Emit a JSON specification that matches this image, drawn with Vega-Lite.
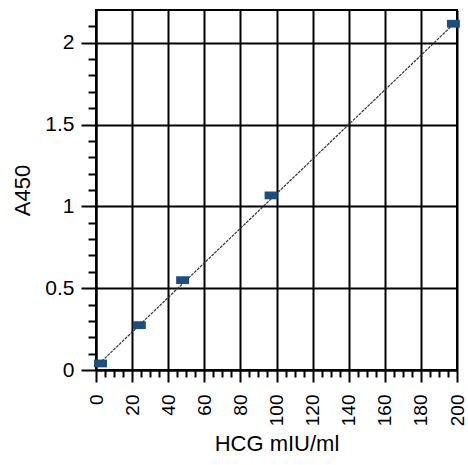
{
  "$schema": "https://vega.github.io/schema/vega-lite/v6.json",
  "width": 361,
  "height": 360,
  "autosize": "none",
  "padding": {"left": 96, "top": 10, "right": 11, "bottom": 95},
  "background": "white",
  "config": {"view": {"stroke": "black", "strokeWidth": 2}, "font": "Liberation Sans"},
  "datasets": {
    "pts": [
      {"hcg": 2.5, "a450": 0.04},
      {"hcg": 24, "a450": 0.274},
      {"hcg": 48, "a450": 0.549},
      {"hcg": 97, "a450": 1.067},
      {"hcg": 198, "a450": 2.116}
    ],
    "fit": [
      {"hcg": 0, "a450": 0.02},
      {"hcg": 200, "a450": 2.134}
    ]
  },
  "layer": [
    {
      "data": {"name": "fit"},
      "mark": {"type": "line", "color": "#333333", "strokeWidth": 1.2, "strokeDash": [3, 1], "clip": false},
      "encoding": {
        "x": {
          "field": "hcg", "type": "quantitative",
          "scale": {"domain": [0, 200], "nice": false, "zero": false},
          "axis": {
            "orient": "bottom",
            "values": [0, 20, 40, 60, 80, 100, 120, 140, 160, 180, 200],
            "grid": true, "gridColor": "black", "gridWidth": 2, "gridOpacity": 1,
            "domainColor": "black", "domainWidth": 2,
            "tickColor": "black", "tickWidth": 2, "tickSize": 12,
            "labelAngle": -90, "labelFontSize": 19, "labelColor": "black", "labelPadding": 12,
            "labelFlush": false, "labelOverlap": false,
            "title": "HCG mIU/ml", "titleFontSize": 22, "titleFontWeight": "normal", "titleColor": "black", "titlePadding": 8
          }
        },
        "y": {
          "field": "a450", "type": "quantitative",
          "scale": {"domain": [0, 2.2], "nice": false, "zero": false},
          "axis": {
            "orient": "left",
            "values": [0, 0.5, 1, 1.5, 2],
            "format": "~g",
            "grid": true, "gridColor": "black", "gridWidth": 2, "gridOpacity": 1,
            "domainColor": "black", "domainWidth": 2,
            "tickColor": "black", "tickWidth": 2, "tickSize": 15,
            "labelFontSize": 21, "labelColor": "black", "labelPadding": 7,
            "labelFlush": false, "labelOverlap": false,
            "title": "A450", "titleFontSize": 22, "titleFontWeight": "normal", "titleColor": "black", "titlePadding": 10
          }
        }
      }
    },
    {
      "data": {"name": "pts"},
      "mark": {"type": "point", "shape": "M-1,-0.6L1,-0.6L1,0.6L-1,0.6Z", "filled": true, "size": 169, "color": "#1b4f80", "opacity": 1, "clip": false},
      "encoding": {
        "x": {
          "field": "hcg", "type": "quantitative",
          "scale": {"domain": [0, 200], "nice": false, "zero": false},
          "axis": {
            "orient": "bottom",
            "values": [5, 10, 15, 25, 30, 35, 45, 50, 55, 65, 70, 75, 85, 90, 95, 105, 110, 115, 125, 130, 135, 145, 150, 155, 165, 170, 175, 185, 190, 195],
            "grid": false, "labels": false, "domain": false,
            "tickColor": "black", "tickWidth": 2, "tickSize": 7,
            "title": null
          }
        },
        "y": {
          "field": "a450", "type": "quantitative",
          "scale": {"domain": [0, 2.2], "nice": false, "zero": false},
          "axis": {
            "orient": "left",
            "values": [0.1, 0.2, 0.3, 0.4, 0.6, 0.7, 0.8, 0.9, 1.1, 1.2, 1.3, 1.4, 1.6, 1.7, 1.8, 1.9, 2.1],
            "grid": false, "labels": false, "domain": false,
            "tickColor": "black", "tickWidth": 2, "tickSize": 8,
            "title": null
          }
        }
      }
    }
  ],
  "resolve": {"axis": {"x": "independent", "y": "independent"}}
}
